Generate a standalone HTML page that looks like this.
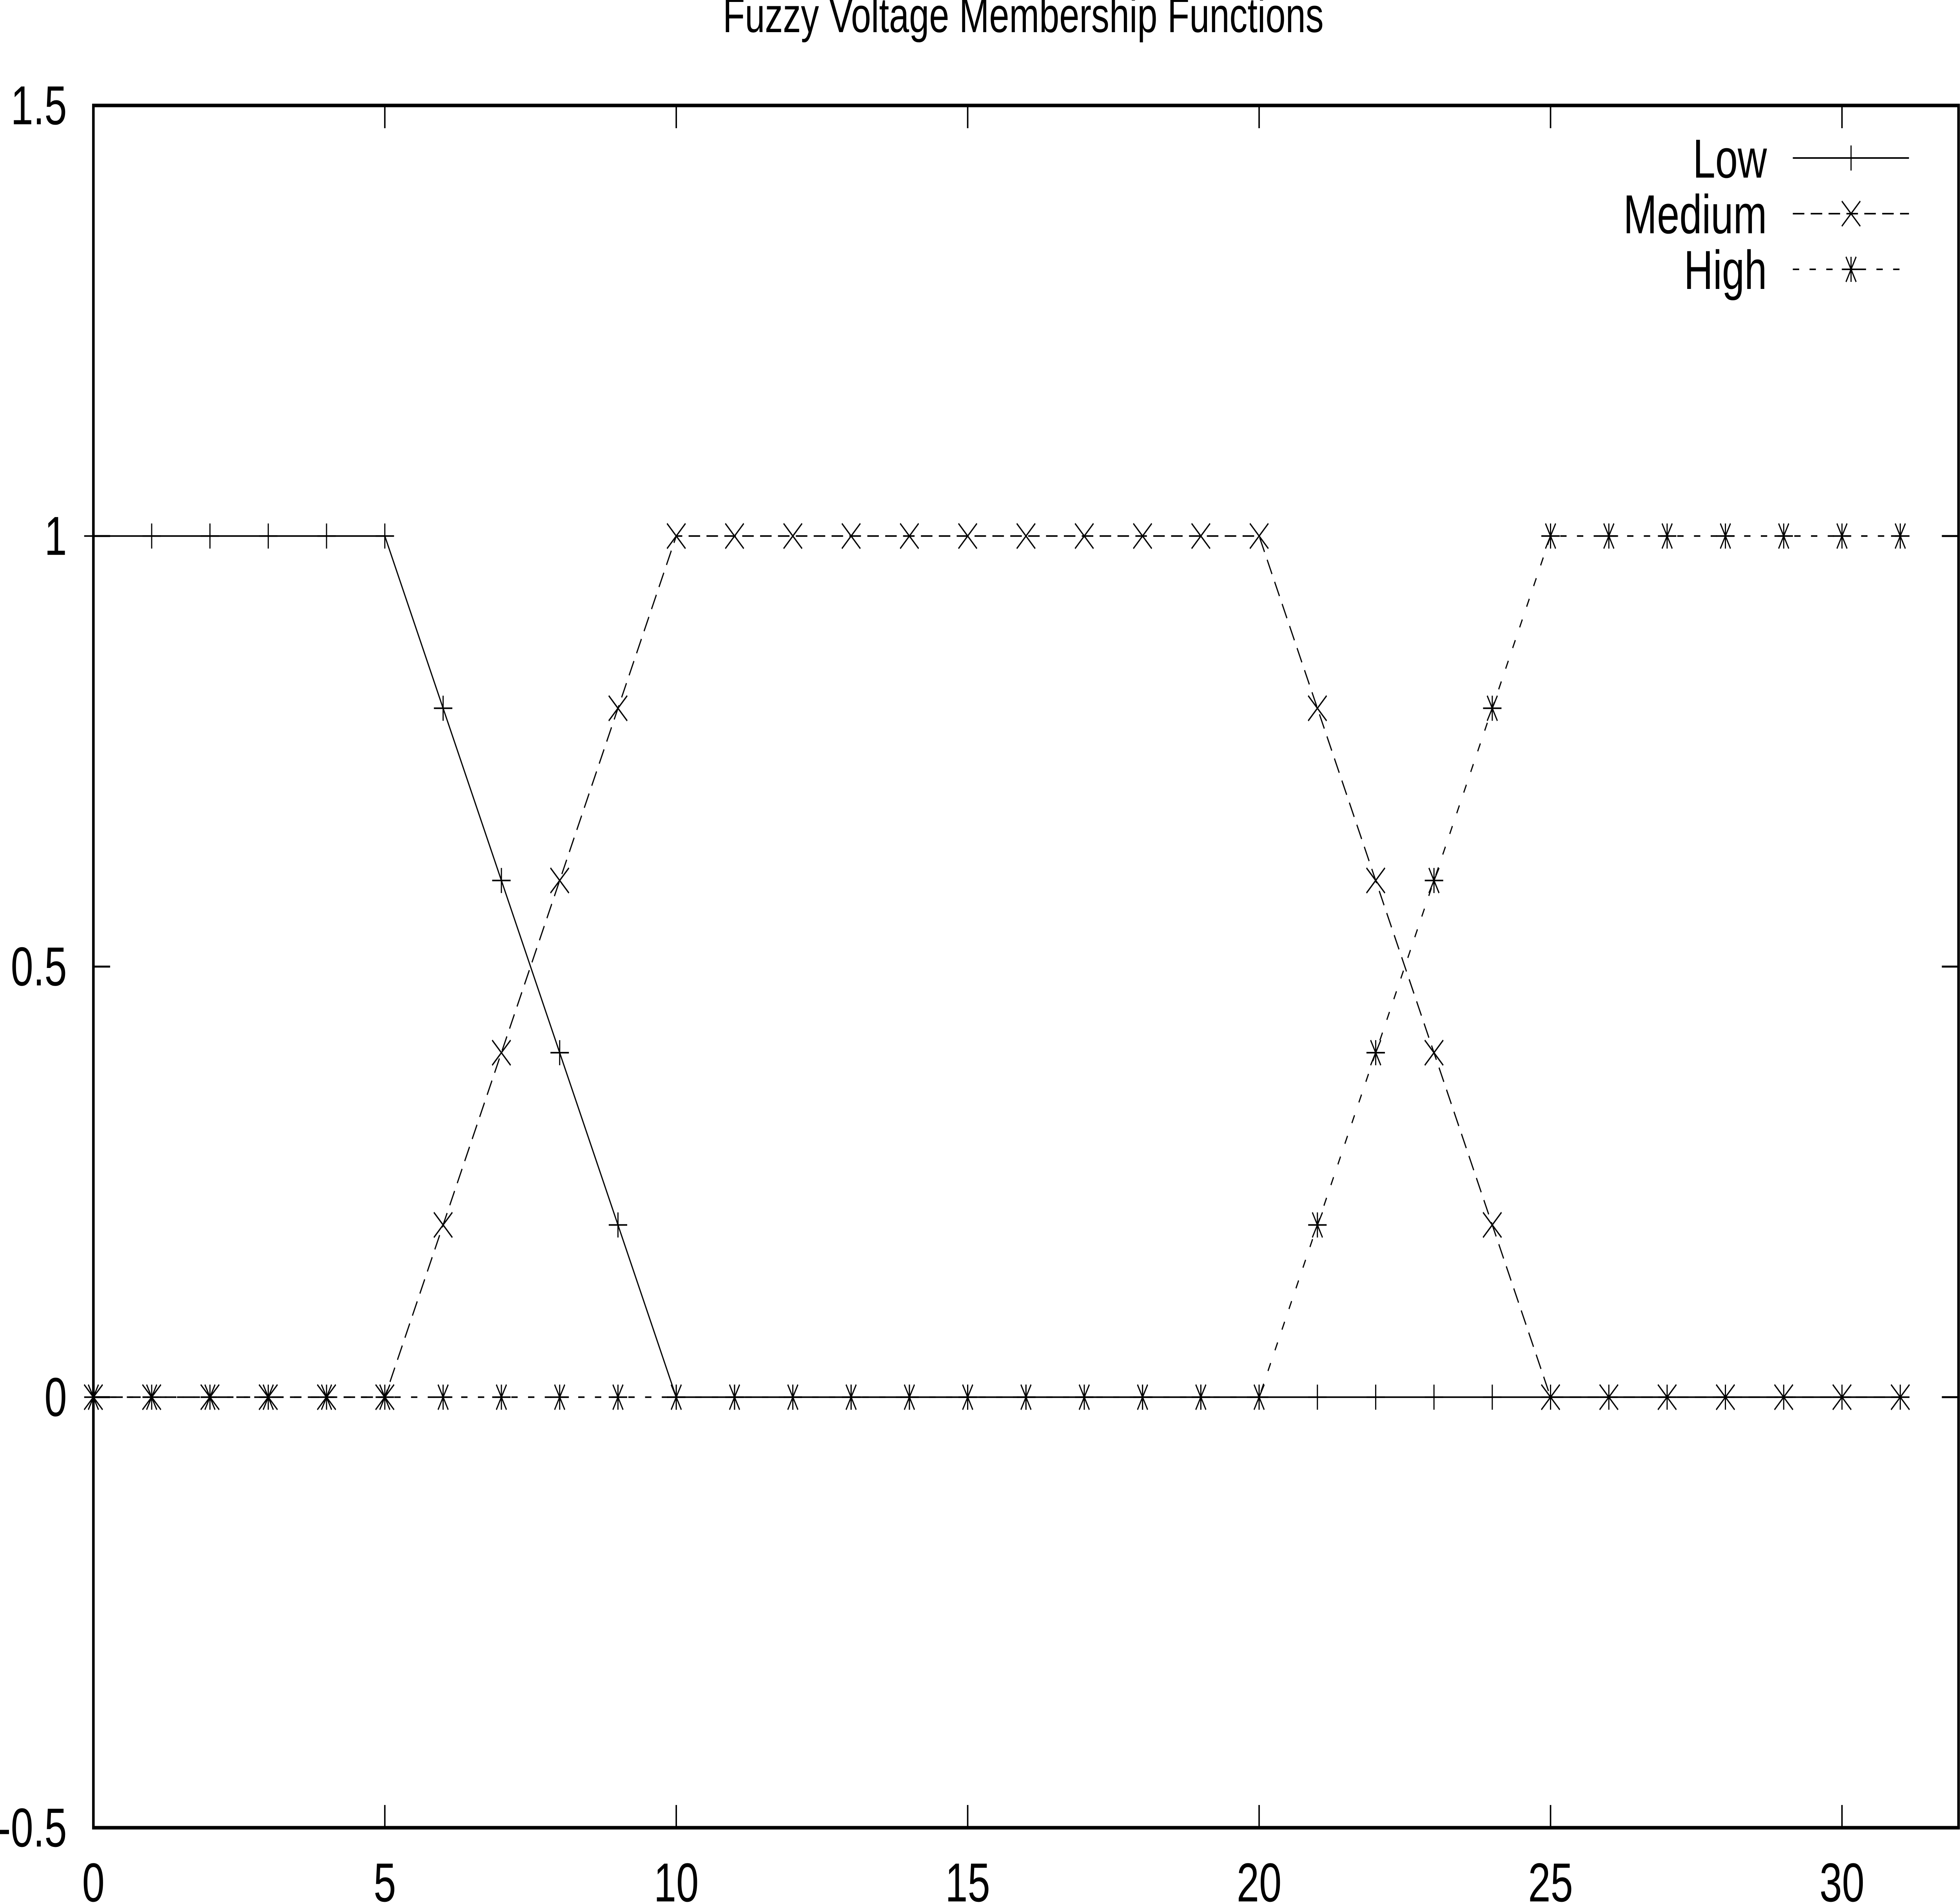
<!DOCTYPE html>
<html><head><meta charset="utf-8"><style>
html,body{margin:0;padding:0;background:#fff;width:100%;height:100%;overflow:hidden}
svg{display:block;width:100vw;height:100vh}
text{font-family:"Liberation Sans",sans-serif;fill:#000}
</style></head><body>
<svg id="chart" viewBox="0 0 6800 4854" preserveAspectRatio="none" xmlns="http://www.w3.org/2000/svg">
<text x="3550" y="82" font-size="125" text-anchor="middle">Fuzzy Voltage Membership Functions</text>
<g id="axes"></g>
<g id="series"></g>
<g id="legend"></g>
</svg>
<script>
const xValues = [0,1,2,3,4,5,6,7,8,9,10,11,12,13,14,15,16,17,18,19,20,21,22,23,24,25,26,27,28,29,30,31];
const lowValues = [1,1,1,1,1,1,0.8,0.6,0.4,0.2,0,0,0,0,0,0,0,0,0,0,0,0,0,0,0,0,0,0,0,0,0,0];
const mediumValues = [0,0,0,0,0,0,0.2,0.4,0.6,0.8,1,1,1,1,1,1,1,1,1,1,1,0.8,0.6,0.4,0.2,0,0,0,0,0,0,0];
const highValues = [0,0,0,0,0,0,0,0,0,0,0,0,0,0,0,0,0,0,0,0,0,0.2,0.4,0.6,0.8,1,1,1,1,1,1,1];
const xTicks = [0,5,10,15,20,25,30];
const yTicks = [-0.5,0,0.5,1,1.5];
const yTickLabels = ["-0.5","0","0.5","1","1.5"];
const seriesNames = ["Low","Medium","High"];

const NS="http://www.w3.org/2000/svg";
const L=324,R=6795,T=269,B=4662,XMIN=0,XMAX=32,YMIN=-0.5,YMAX=1.5;
const sx=v=>L+(v-XMIN)/(XMAX-XMIN)*(R-L);
const sy=v=>B-(v-YMIN)/(YMAX-YMIN)*(B-T);
function mk(tag,attrs,parent){const e=document.createElementNS(NS,tag);for(const k in attrs)e.setAttribute(k,attrs[k]);parent.appendChild(e);return e;}
const axes=document.getElementById('axes'),ser=document.getElementById('series'),leg=document.getElementById('legend');

let fr=mk('rect',{x:L,y:T,width:R-L,height:B-T,fill:'none',stroke:'#000','stroke-width':9},axes);


xTicks.forEach(v=>{
  let t=mk('path',{d:`M${sx(v)},${B}V${B-58}M${sx(v)},${T}V${T+58}`,stroke:'#000','stroke-width':5},axes);
  
  
  let lb=mk('text',{x:sx(v),y:4850,'font-size':140,'text-anchor':'middle'},axes);lb.textContent=v;
  
  
});
yTicks.forEach((v,i)=>{
  let t=mk('path',{d:`M${L},${sy(v)}H${L+58}M${R},${sy(v)}H${R-58}`,stroke:'#000','stroke-width':5},axes);
  
  
  let lb=mk('text',{x:232,y:sy(v)+48,'font-size':140,'text-anchor':'end'},axes);lb.textContent=yTickLabels[i];
  
  
});

const styles=[{dash:'',m:'plus'},{dash:'40 22',m:'cross'},{dash:'22 36',m:'star'}];
function marker(x,y,type,g){
  const s=32;let d='';
  if(type==='plus')d=`M${x-s},${y}H${x+s}M${x},${y-s}V${y+s}`;
  if(type==='cross')d=`M${x-s},${y-s}L${x+s},${y+s}M${x+s},${y-s}L${x-s},${y+s}`;
  if(type==='star')d=`M${x-s},${y}H${x+s}M${x},${y-s}V${y+s}M${x-s*0.55},${y-s}L${x+s*0.55},${y+s}M${x+s*0.55},${y-s}L${x-s*0.55},${y+s}`;
  return mk('path',{d:d,stroke:'#000','stroke-width':4,fill:'none'},g);
}
[lowValues,mediumValues,highValues].forEach((vals,si)=>{
  const g=mk('g',{},ser);
  
  
  const pts=xValues.map((x,i)=>sx(x)+','+sy(vals[i])).join(' ');
  const pl=mk('polyline',{points:pts,fill:'none',stroke:'#000','stroke-width':4,'stroke-dasharray':styles[si].dash||'none'},g);
  
  
  xValues.forEach((x,i)=>{
    const m=marker(sx(x),sy(vals[i]),styles[si].m,g);
    
    
  });
  const ly=403+si*142;
  const lg=mk('g',{},leg);
  
  
  const tx=mk('text',{x:6130,y:ly+50,'font-size':140,'text-anchor':'end'},lg);tx.textContent=seriesNames[si];
  mk('path',{d:`M6220,${ly}H6623`,stroke:'#000','stroke-width':4,'stroke-dasharray':styles[si].dash||'none'},lg);
  marker(6422,ly,styles[si].m,lg);
});
</script>
</body></html>
